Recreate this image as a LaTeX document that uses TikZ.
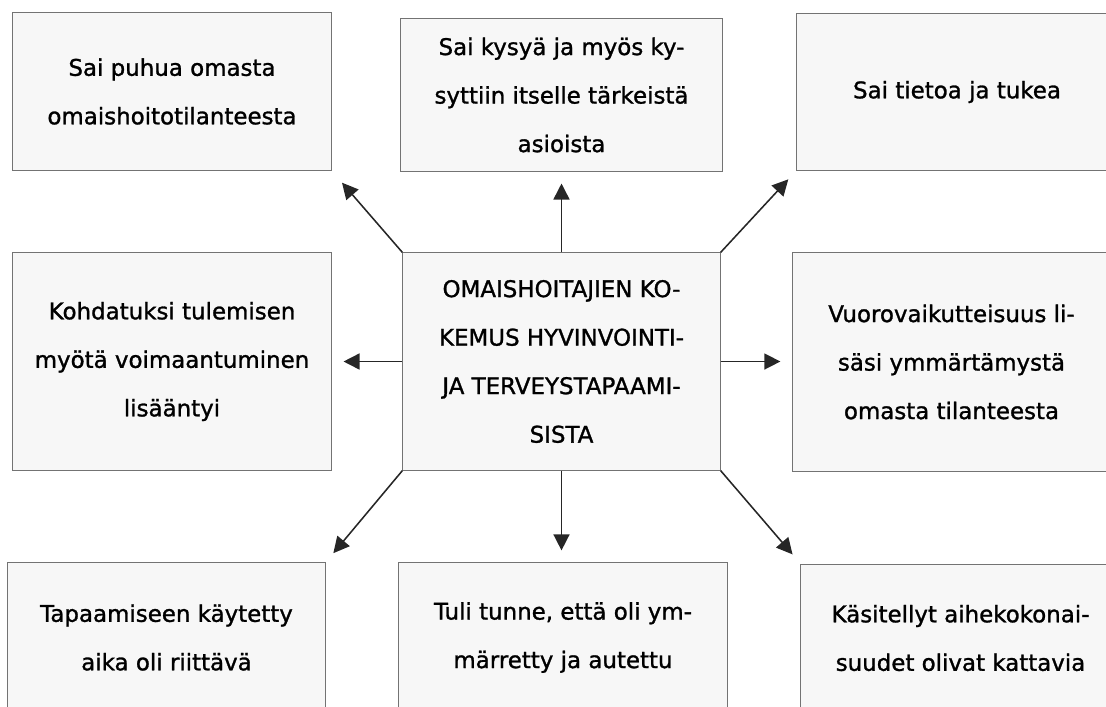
\documentclass[tikz,border=0pt]{standalone}
\usepackage{fontspec}
\setmainfont{DejaVu Sans}
\newfontfamily\boxfont{DejaVu Sans}[FakeBold=1.2]
\usetikzlibrary{arrows.meta}

\begin{document}
\begin{tikzpicture}[x=0.025cm,y=-0.025cm,>={Triangle[length=0.4cm,width=0.4cm]},
    theme/.style={draw=black!55,fill=black!3,line width=0.7pt,align=center,inner sep=0pt,
        font=\boxfont\fontsize{16.3}{34.5}\selectfont},
    link/.style={->,line width=1.1pt,draw=black!85,shorten >=0.3cm}]
    % Page frame (the outer boxes run past the edge, as in the reference)
    \useasboundingbox (0,0) rectangle (1106,706);
    \clip (0,0) rectangle (1106,706);
    % Centre theme
    \node[theme,minimum width=7.93cm,minimum height=5.43cm] (C) at (561.5,361.5)
        {OMAISHOITAJIEN KO-\\KEMUS HYVINVOINTI-\\JA TERVEYSTAPAAMI-\\SISTA};
    % Top row
    \node[theme,minimum width=7.95cm,minimum height=3.93cm] (TL) at (172,91.5)
        {Sai puhua omasta\\omaishoitotilanteesta};
    \node[theme,minimum width=8.03cm,minimum height=3.8cm] (TC) at (561.5,95)
        {Sai kysyä ja myös ky-\\syttiin itselle tärkeistä\\asioista};
    \node[theme,minimum width=8cm,minimum height=3.9cm] (TR) at (957,92)
        {Sai tietoa ja tukea};
    % Middle row
    \node[theme,minimum width=7.95cm,minimum height=5.43cm] (ML) at (172,361.5)
        {Kohdatuksi tulemisen\\myötä voimaantuminen\\lisääntyi};
    \node[theme,minimum width=7.93cm,minimum height=5.45cm] (MR) at (951.5,362)
        {Vuorovaikutteisuus li-\\säsi ymmärtämystä\\omasta tilanteesta};
    % Bottom row
    \node[theme,minimum width=7.93cm,minimum height=3.73cm] (BL) at (166.5,637.5)
        {Tapaamiseen käytetty\\aika oli riittävä};
    \node[theme,minimum width=8.2cm,minimum height=3.73cm] (BC) at (563,637.5)
        {Tuli tunne, että oli ym-\\märretty ja autettu};
    \node[theme,minimum width=7.98cm,minimum height=3.7cm] (BR) at (960.5,638)
        {Käsitellyt aihekokonai-\\suudet olivat kattavia};
    % Arrows out of the centre
    \draw[link,shorten >=0.4cm] (C.north west) -- (TL.south east);
    \draw[link] (C.north) -- (C.north |- TC.south);
    \draw[link] (C.north east) -- (TR.south west);
    \draw[link] (C.west) -- (C.west -| ML.east);
    \draw[link] (C.east) -- (C.east -| MR.west);
    \draw[link] (C.south west) -- (BL.north east);
    \draw[link] (C.south) -- (C.south |- BC.north);
    \draw[link] (C.south east) -- (BR.north west);
\end{tikzpicture}
\end{document}
